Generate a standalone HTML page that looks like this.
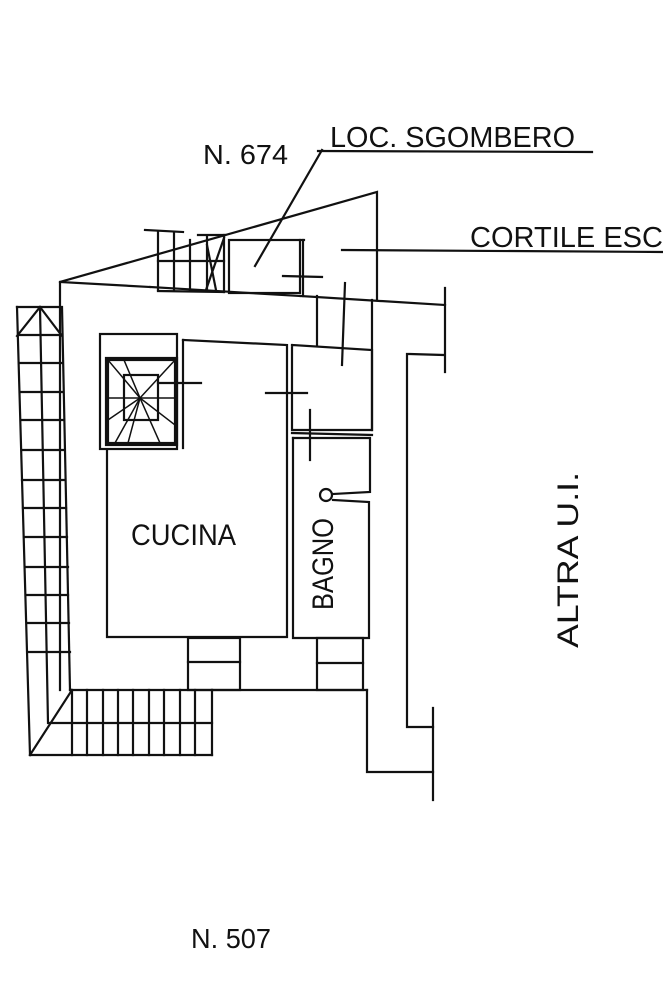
<!DOCTYPE html>
<html><head><meta charset="utf-8"><style>
html,body{margin:0;padding:0;background:#fff}
svg{display:block}
text{font-family:"Liberation Sans",sans-serif;fill:#111}
</style></head><body>
<svg width="663" height="995" viewBox="0 0 663 995" xmlns="http://www.w3.org/2000/svg">
<g stroke="#111" stroke-width="2.2" fill="none" stroke-linecap="square">
<polyline points="60,690 60,282 377,192 377,300"/>
<line x1="60" y1="282" x2="150" y2="287"/>
<line x1="150" y1="287" x2="300" y2="296"/>
<line x1="300" y1="296" x2="445" y2="305"/>
<line x1="445" y1="288" x2="445" y2="372"/>
<line x1="372" y1="300" x2="372" y2="430"/>
<line x1="145" y1="230" x2="183" y2="232"/>
<line x1="198" y1="235" x2="225" y2="235"/>
<line x1="158" y1="232" x2="158" y2="290"/>
<line x1="174" y1="232" x2="174" y2="290"/>
<line x1="190" y1="240" x2="190" y2="290"/>
<line x1="207" y1="237" x2="207" y2="290"/>
<line x1="224" y1="235" x2="224" y2="292"/>
<line x1="158" y1="261" x2="224" y2="261"/>
<line x1="207" y1="245" x2="216" y2="290"/>
<line x1="224" y1="238" x2="206" y2="290"/>
<line x1="158" y1="291" x2="224" y2="292"/>
<rect x="229" y="240" width="71" height="53"/>
<line x1="300" y1="240" x2="304" y2="240"/>
<line x1="303" y1="240" x2="303" y2="296"/>
<line x1="283" y1="276" x2="322" y2="277"/>
<line x1="342" y1="250" x2="663" y2="252"/>
<line x1="322" y1="150" x2="255" y2="266"/>
<line x1="318" y1="151" x2="592" y2="152"/>
<line x1="317" y1="296" x2="317" y2="345"/>
<line x1="345" y1="283" x2="342" y2="365"/>
<polyline points="292,345 372,350 372,430 292,430 292,345"/>
<line x1="310" y1="410" x2="310" y2="460"/>
<line x1="292" y1="433" x2="372" y2="435"/>
<line x1="266" y1="393" x2="307" y2="393"/>
<polyline points="443,355 410,354 407,354 407,727 433,727"/>
<line x1="433" y1="708" x2="433" y2="800"/>
<polyline points="367,690 367,772 433,772"/>
<polyline points="183,340 287,345 287,637 107,637 107,450"/>
<line x1="183" y1="340" x2="183" y2="448"/>
<rect x="100" y="334" width="77" height="115"/>
<rect x="106" y="358" width="71" height="87"/>
<rect x="108" y="360" width="67" height="83"/>
<rect x="124" y="375" width="34" height="45"/>
<line x1="158" y1="383" x2="201" y2="383"/>
<g stroke-width="1.5">
<line x1="140" y1="398" x2="108" y2="360"/><line x1="140" y1="398" x2="175" y2="360"/>
<line x1="140" y1="398" x2="108" y2="398"/><line x1="140" y1="398" x2="175" y2="398"/>
<line x1="140" y1="398" x2="115" y2="443"/><line x1="140" y1="398" x2="128" y2="443"/>
<line x1="140" y1="398" x2="160" y2="443"/><line x1="140" y1="398" x2="108" y2="420"/>
<line x1="140" y1="398" x2="124" y2="360"/><line x1="140" y1="398" x2="175" y2="425"/>
</g>
<polyline points="293,438 370,438 370,492 333,494"/>
<polyline points="333,500 369,502 369,638 293,638 293,438"/>
<circle cx="326" cy="495" r="6"/>
<rect x="188" y="638" width="52" height="52"/>
<line x1="188" y1="662" x2="240" y2="662"/>
<rect x="317" y="638" width="46" height="52"/>
<line x1="317" y1="663" x2="363" y2="663"/>
<line x1="212" y1="690" x2="367" y2="690"/>
<polyline points="17,307 58,307"/>
<line x1="17" y1="307" x2="30" y2="755"/>
<line x1="40" y1="307" x2="48" y2="723"/>
<line x1="62" y1="307" x2="70" y2="690"/>
<line x1="17" y1="336" x2="40" y2="307"/><line x1="40" y1="307" x2="62" y2="336"/>
<g>
<line x1="18" y1="335" x2="62" y2="335"/>
<line x1="19" y1="363" x2="62" y2="363"/>
<line x1="20" y1="392" x2="63" y2="392"/>
<line x1="21" y1="420" x2="64" y2="420"/>
<line x1="22" y1="450" x2="64" y2="450"/>
<line x1="22" y1="480" x2="65" y2="480"/>
<line x1="23" y1="508" x2="66" y2="508"/>
<line x1="24" y1="537" x2="67" y2="537"/>
<line x1="25" y1="567" x2="68" y2="567"/>
<line x1="26" y1="595" x2="68" y2="595"/>
<line x1="27" y1="623" x2="69" y2="623"/>
<line x1="28" y1="652" x2="70" y2="652"/>
</g>
<line x1="70" y1="690" x2="212" y2="690"/>
<line x1="50" y1="723" x2="212" y2="723"/>
<line x1="30" y1="755" x2="212" y2="755"/>
<line x1="30" y1="755" x2="72" y2="690"/>
<line x1="72" y1="690" x2="72" y2="755"/>
<line x1="87" y1="690" x2="87" y2="755"/>
<line x1="103" y1="690" x2="103" y2="755"/>
<line x1="118" y1="690" x2="118" y2="755"/>
<line x1="133" y1="690" x2="133" y2="755"/>
<line x1="149" y1="690" x2="149" y2="755"/>
<line x1="164" y1="690" x2="164" y2="755"/>
<line x1="180" y1="690" x2="180" y2="755"/>
<line x1="195" y1="690" x2="195" y2="755"/>
<line x1="212" y1="690" x2="212" y2="755"/>
</g>
<text x="203" y="164" font-size="28" textLength="85" lengthAdjust="spacingAndGlyphs">N. 674</text>
<text x="330" y="147" font-size="29" textLength="245" lengthAdjust="spacingAndGlyphs">LOC. SGOMBERO</text>
<text x="470" y="247" font-size="29" textLength="193" lengthAdjust="spacingAndGlyphs">CORTILE ESC</text>
<text x="131" y="545" font-size="30" textLength="105" lengthAdjust="spacingAndGlyphs">CUCINA</text>
<text transform="translate(333,610) rotate(-90)" font-size="30" textLength="92" lengthAdjust="spacingAndGlyphs">BAGNO</text>
<text transform="translate(578,648) rotate(-90)" font-size="30" textLength="176" lengthAdjust="spacingAndGlyphs">ALTRA U.I.</text>
<text x="191" y="948" font-size="28" textLength="80" lengthAdjust="spacingAndGlyphs">N. 507</text>
</svg>
</body></html>
